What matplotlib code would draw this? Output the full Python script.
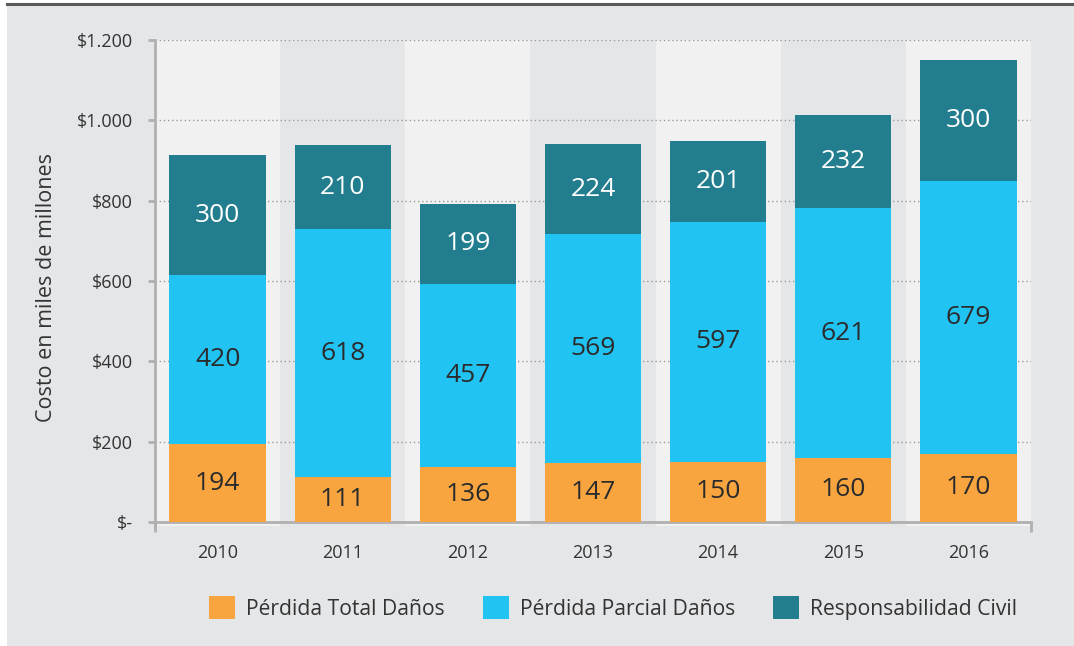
import matplotlib
matplotlib.use("Agg")
import matplotlib.pyplot as plt
from matplotlib.patches import Patch, Rectangle
from matplotlib.lines import Line2D
import numpy as np

plt.rcParams["font.family"] = ["Open Sans", "DejaVu Sans"]

years = ["2010", "2011", "2012", "2013", "2014", "2015", "2016"]
perdida_total = [194, 111, 136, 147, 150, 160, 170]
perdida_parcial = [420, 618, 457, 569, 597, 621, 679]
responsabilidad = [300, 210, 199, 224, 201, 232, 300]

series_names = ["Pérdida Total Daños", "Pérdida Parcial Daños", "Responsabilidad Civil"]
series_colors = ["#f8a540", "#21c3f2", "#227d8e"]
label_colors = ["#2b2b2b", "#2b2b2b", "#ffffff"]

y_ticks = [0, 200, 400, 600, 800, 1000, 1200]
y_tick_labels = ["$-", "$200", "$400", "$600", "$800", "$1.000", "$1.200"]

BG = "#e5e6e8"
BAND = "#f1f1f1"
AXIS = "#b0b0b0"
TEXT = "#333333"

W, H = 1074, 646
fig = plt.figure(figsize=(W / 100, H / 100), dpi=100)
fig.patch.set_facecolor("white")

# grey panel with a dark rule along the top
fig.add_artist(Rectangle((7 / W, 0), 1 - 7 / W, 1 - 5 / H, transform=fig.transFigure,
                         facecolor=BG, edgecolor="none", zorder=-10))
fig.add_artist(Line2D([7 / W, 1], [1 - 4 / H, 1 - 4 / H], transform=fig.transFigure,
                      color="#5a5a5a", linewidth=2.2))

ax = fig.add_axes([155 / W, 120 / H, 876 / W, 486 / H])
ax.set_facecolor("none")

x = np.arange(len(years))
ax.set_xlim(-0.5, len(years) - 0.5)
ax.set_ylim(-10, 1200)

# alternating column bands
for i in x:
    if i % 2 == 0:
        ax.axvspan(i - 0.5, i + 0.5, color=BAND, zorder=0, linewidth=0)

ax.set_yticks(y_ticks)
ax.set_yticklabels(y_tick_labels)
ax.yaxis.grid(True, color="#9a9a9a", linestyle=(0, (1, 2)), linewidth=1, zorder=1)
ax.set_axisbelow(True)

bottom = np.zeros(len(years))
for vals, name, color, lc in zip([perdida_total, perdida_parcial, responsabilidad],
                                 series_names, series_colors, label_colors):
    vals = np.array(vals)
    ax.bar(x, vals, width=0.77, bottom=bottom, color=color, label=name, zorder=3)
    for xi, b, v in zip(x, bottom, vals):
        ax.text(xi, b + v / 2, f"{v}", ha="center", va="center",
                fontsize=19, color=lc, zorder=4)
    bottom = bottom + vals

for side in ["top", "right"]:
    ax.spines[side].set_visible(False)
ax.spines["bottom"].set_position(("data", 0))
for side in ["left", "bottom"]:
    ax.spines[side].set_color(AXIS)
    ax.spines[side].set_linewidth(2)

ax.set_xticks(x)
ax.set_xticklabels(years)
ax.set_xticks([-0.5, len(years) - 0.5], minor=True)
ax.tick_params(axis="x", which="major", length=0, pad=16, labelsize=13, labelcolor=TEXT)
ax.tick_params(axis="x", which="minor", length=7, width=2, color=AXIS, direction="out")
ax.tick_params(axis="y", length=5, width=2, color=AXIS, pad=11, labelsize=13, labelcolor=TEXT)

fig.text(46 / W, 1 - 287 / H, "Costo en miles de millones", rotation=90,
         ha="center", va="center", fontsize=15.5, color=TEXT)

handles = [Patch(facecolor=c, edgecolor="none") for c in series_colors]
fig.legend(handles, series_names, loc="center", bbox_to_anchor=(613 / W, 1 - 608 / H),
           ncol=3, frameon=False, fontsize=15.2, handlelength=1.25, handleheight=1.25,
           handletextpad=0.5, columnspacing=1.8, labelcolor=TEXT)

fig.savefig("out.png", dpi=100, facecolor=fig.get_facecolor())
